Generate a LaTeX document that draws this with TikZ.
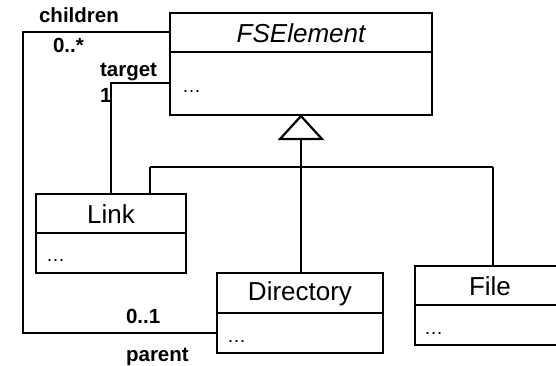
\documentclass[tikz,border=0pt]{standalone}
\usepackage{fontspec}
\setmainfont{Liberation Sans}
\begin{document}
\begin{tikzpicture}[x=1pt,y=-1pt,
  line width=2.2pt,
  classbox/.style={draw, rectangle, inner sep=0pt, line width=2.2pt},
  cname/.style={font=\fontsize{26}{30}\selectfont, inner sep=0pt},
  cdots/.style={font=\fontsize{19}{22}\selectfont, inner sep=0pt, anchor=base west},
  role/.style={font=\fontsize{20.5}{24}\selectfont\bfseries, inner sep=0pt, anchor=base west},
  inherit/.style={line width=2.2pt},
  assoc/.style={line width=2.2pt}]
\useasboundingbox (0,0) rectangle (556,366);
\clip (0,0) rectangle (556,366);

% class boxes
\node[classbox, minimum width=262pt, minimum height=102pt] (fs) at (301,64) {};
\node[classbox, minimum width=150pt, minimum height=79pt] (link) at (111,233.5) {};
\node[classbox, minimum width=166pt, minimum height=80pt] (dir) at (300,313) {};
\node[classbox, minimum width=150pt, minimum height=79pt] (file) at (490,305.5) {};

% compartment dividers
\coordinate (fsdiv) at (0,52);
\coordinate (linkdiv) at (0,233);
\coordinate (dirdiv) at (0,313);
\coordinate (filediv) at (0,305);
\draw (fs.west |- fsdiv) -- (fs.east |- fsdiv);
\draw (link.west |- linkdiv) -- (link.east |- linkdiv);
\draw (dir.west |- dirdiv) -- (dir.east |- dirdiv);
\draw (file.west |- filediv) -- (file.east |- filediv);

% class names and attribute compartments
\node[cname, font=\fontsize{26}{30}\selectfont\itshape] (fsname) at (301,33) {FSElement};
\node[cdots] (fsattr) at (181,93) {…};
\node[cname] (linkname) at (111,214) {Link};
\node[cdots] (linkattr) at (45,261) {…};
\node[cname] (dirname) at (300,294) {Directory};
\node[cdots] (dirattr) at (226,342) {…};
\node[cname] (filename) at (490,286) {File};
\node[cdots] (fileattr) at (423,334) {…};

% generalization
\coordinate (apex) at (fs.south);
\coordinate (tribase) at (301,139);
\coordinate (bus) at (301,167);
\coordinate (busleft) at (150,167);
\coordinate (busright) at (493,167);
\draw[inherit, line join=miter, fill=white] (apex) -- (280,139) -- (322,139) -- cycle;
\draw[inherit] (tribase) -- (bus);
\draw[inherit] (busleft) -- (busright);
\draw[inherit] (busleft) -- (link.north -| busleft);
\draw[inherit] (bus) -- (dir.north -| bus);
\draw[inherit] (busright) -- (file.north -| busright);

% association: children / parent
\coordinate (chtop) at (23,32);
\coordinate (chbot) at (23,333);
\draw[assoc] (fs.west |- chtop) -- (chtop) -- (chbot) -- (dir.west |- chbot);
\node[role] (children) at (38,23) {children};
\node[role] (chmult) at (52,53) {0..*};
\node[role] (parmult) at (125,323) {0..1};
\node[role] (parent) at (125,361) {parent};

% association: target
\coordinate (tgcorner) at (111,83);
\draw[assoc] (fs.west |- tgcorner) -- (tgcorner) -- (link.north);
\node[role] (target) at (99,77) {target};
\node[role] (tgmult) at (99,103) {1};
\end{tikzpicture}
\end{document}
